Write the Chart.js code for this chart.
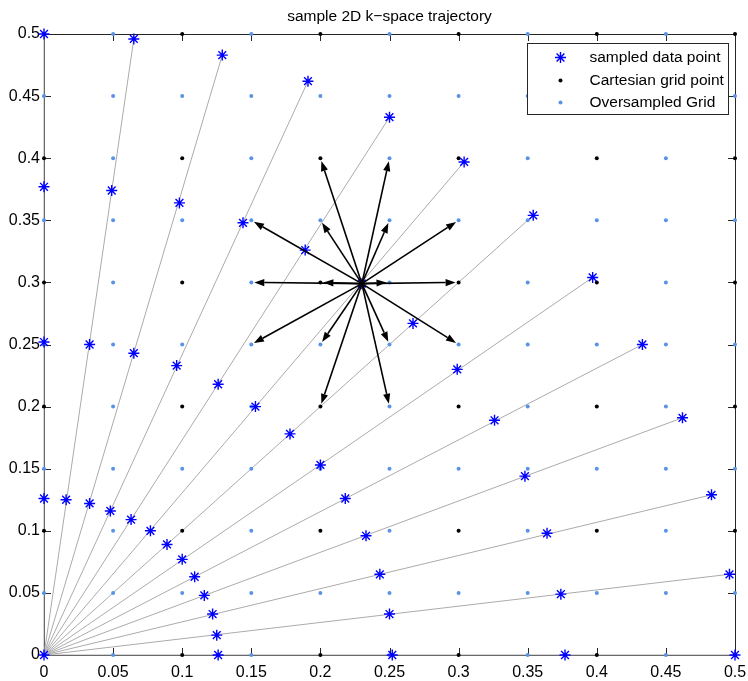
<!DOCTYPE html>
<html>
<head>
<meta charset="UTF-8">
<title>sample 2D k-space trajectory</title>
<script src="https://cdn.jsdelivr.net/npm/chart.js@4"></script>
<style>
  html, body { margin: 0; padding: 0; background: #fff; }
  #wrap { width: 748px; height: 681px; }
</style>
</head>
<body>
<div id="wrap"><canvas id="kspace" width="748" height="681"></canvas></div>
<script>
// axis ticks (same on x and y)
const tickValues = [0, 0.05, 0.1, 0.15, 0.2, 0.25, 0.3, 0.35, 0.4, 0.45, 0.5];
const tickLabels = ['0', '0.05', '0.1', '0.15', '0.2', '0.25', '0.3', '0.35', '0.4', '0.45', '0.5'];

// grid positions along each axis
const cartesianAxis = [0, 0.1, 0.2, 0.3, 0.4, 0.5];
const oversampledAxis = [0, 0.05, 0.1, 0.15, 0.2, 0.25, 0.3, 0.35, 0.4, 0.45, 0.5];

// sampled data points (origin, then 4 rings, 13 spokes each)
const sampledX = [0,
  0.126, 0.125, 0.122, 0.116, 0.109, 0.100, 0.089, 0.077, 0.063, 0.048, 0.033, 0.016, 0,
  0.252, 0.250, 0.243, 0.233, 0.218, 0.200, 0.178, 0.153, 0.126, 0.096, 0.065, 0.033, 0,
  0.377, 0.374, 0.364, 0.348, 0.326, 0.299, 0.267, 0.230, 0.189, 0.144, 0.098, 0.049, 0,
  0.500, 0.496, 0.483, 0.462, 0.433, 0.397, 0.354, 0.304, 0.250, 0.191, 0.129, 0.065, 0];
const sampledY = [0,
  0, 0.016, 0.033, 0.048, 0.063, 0.077, 0.089, 0.100, 0.109, 0.116, 0.122, 0.125, 0.126,
  0, 0.033, 0.065, 0.096, 0.126, 0.153, 0.178, 0.200, 0.218, 0.233, 0.243, 0.250, 0.252,
  0, 0.049, 0.098, 0.144, 0.189, 0.230, 0.267, 0.299, 0.326, 0.348, 0.364, 0.374, 0.377,
  0, 0.065, 0.129, 0.191, 0.250, 0.304, 0.354, 0.397, 0.433, 0.462, 0.483, 0.496, 0.500];

// trajectory spokes: from origin to these end points
const spokeEndX = [0.500, 0.496, 0.483, 0.462, 0.433, 0.397, 0.354, 0.304, 0.250, 0.191, 0.129, 0.065, 0];
const spokeEndY = [0, 0.065, 0.129, 0.191, 0.250, 0.304, 0.354, 0.397, 0.433, 0.462, 0.483, 0.496, 0.500];

// gridding arrows from one sample to its neighbouring grid points
const arrowFromX = 0.230;
const arrowFromY = 0.299;
const arrowToX = [0.2, 0.25, 0.15, 0.2, 0.25, 0.3, 0.15, 0.2, 0.25, 0.3, 0.15, 0.2, 0.25, 0.3, 0.2, 0.25];
const arrowToY = [0.4, 0.4, 0.35, 0.35, 0.35, 0.35, 0.3, 0.3, 0.3, 0.3, 0.25, 0.25, 0.25, 0.25, 0.2, 0.2];

const legendLabels = ['sampled data point', 'Cartesian grid point', 'Oversampled Grid'];

const STAR_BLUE = '#0000ff';
const GRID_BLUE = '#5a93e6';
const SPOKE_GRAY = '#ababab';
const AXIS = '#262626';

const sampled = sampledX.map((x, i) => ({ x: x, y: sampledY[i] }));
const cartesian = [];
cartesianAxis.forEach(gx => cartesianAxis.forEach(gy => cartesian.push({ x: gx, y: gy })));
const oversampled = [];
oversampledAxis.forEach(gx => oversampledAxis.forEach(gy => {
  if (!cartesianAxis.includes(gx) || !cartesianAxis.includes(gy)) oversampled.push({ x: gx, y: gy });
}));

const datasets = [
  { label: legendLabels[0], data: sampled, pointStyle: 'star', pointRadius: 5.5,
    borderColor: STAR_BLUE, backgroundColor: STAR_BLUE, borderWidth: 1.4, order: 0, clip: false },
  { label: legendLabels[1], data: cartesian, pointStyle: 'circle', pointRadius: 2,
    borderWidth: 0, backgroundColor: '#000', order: 1, clip: false },
  { label: legendLabels[2], data: oversampled, pointStyle: 'circle', pointRadius: 2,
    borderWidth: 0, backgroundColor: GRID_BLUE, order: 2, clip: false }
];
spokeEndX.forEach((ex, i) => {
  datasets.push({
    label: 'spoke', data: [{ x: 0, y: 0 }, { x: ex, y: spokeEndY[i] }],
    showLine: true, pointRadius: 0, borderColor: SPOKE_GRAY, borderWidth: 1, order: 3, clip: false
  });
});

function drawStar(ctx, x, y, r) {
  ctx.beginPath();
  for (let k = 0; k < 4; k++) {
    const a = k * Math.PI / 4;
    ctx.moveTo(x - r * Math.cos(a), y - r * Math.sin(a));
    ctx.lineTo(x + r * Math.cos(a), y + r * Math.sin(a));
  }
  ctx.stroke();
}

const framePlugin = {
  id: 'frame',
  beforeDatasetsDraw(chart) {
    const { ctx, chartArea: a, scales: { x, y } } = chart;
    ctx.save();
    ctx.strokeStyle = AXIS;
    ctx.lineWidth = 1;
    ctx.strokeRect(Math.round(a.left) + 0.5, Math.round(a.top) + 0.5,
      Math.round(a.right - a.left), Math.round(a.bottom - a.top));
    const tl = 7;
    ctx.beginPath();
    tickValues.forEach(v => {
      const px = Math.round(x.getPixelForValue(v)) + 0.5;
      ctx.moveTo(px, a.bottom); ctx.lineTo(px, a.bottom - tl);
      ctx.moveTo(px, a.top); ctx.lineTo(px, a.top + tl);
      const py = Math.round(y.getPixelForValue(v)) + 0.5;
      ctx.moveTo(a.left - 2, py); ctx.lineTo(a.left + tl, py);
      ctx.moveTo(a.right, py); ctx.lineTo(a.right - tl, py);
    });
    ctx.stroke();
    ctx.restore();
  },
  afterDatasetsDraw(chart) {
    const { ctx, scales: { x, y } } = chart;
    const cx = x.getPixelForValue(arrowFromX);
    const cy = y.getPixelForValue(arrowFromY);
    ctx.save();
    ctx.strokeStyle = '#000';
    ctx.fillStyle = '#000';
    ctx.lineWidth = 1.6;
    arrowToX.forEach((tx, i) => {
      const px = x.getPixelForValue(tx);
      const py = y.getPixelForValue(arrowToY[i]);
      const ang = Math.atan2(py - cy, px - cx);
      const len = Math.hypot(px - cx, py - cy) - 3;
      const tipX = cx + len * Math.cos(ang), tipY = cy + len * Math.sin(ang);
      const hl = 10, hw = 3.6;
      const bx = tipX - hl * Math.cos(ang), by = tipY - hl * Math.sin(ang);
      ctx.beginPath();
      ctx.moveTo(cx, cy);
      ctx.lineTo(bx, by);
      ctx.stroke();
      ctx.beginPath();
      ctx.moveTo(tipX, tipY);
      ctx.lineTo(bx + hw * Math.sin(ang), by - hw * Math.cos(ang));
      ctx.lineTo(bx - hw * Math.sin(ang), by + hw * Math.cos(ang));
      ctx.closePath();
      ctx.fill();
    });
    ctx.restore();
  },
  afterDraw(chart) {
    const { ctx, chartArea: a } = chart;
    const w = 201, h = 71;
    const left = Math.round(a.right) - 7 - w + 0.5;
    const top = Math.round(a.top) + 9 + 0.5;
    ctx.save();
    ctx.fillStyle = '#fff';
    ctx.fillRect(left, top, w, h);
    ctx.strokeStyle = AXIS;
    ctx.lineWidth = 1;
    ctx.strokeRect(left, top, w, h);
    ctx.font = '15.5px "Liberation Sans", Arial, sans-serif';
    ctx.textBaseline = 'middle';
    ctx.textAlign = 'left';
    const rows = [14, 37, 59];
    legendLabels.forEach((lbl, i) => {
      const ry = top + rows[i];
      const mx = left + 33;
      if (i === 0) {
        ctx.strokeStyle = STAR_BLUE;
        ctx.lineWidth = 1.4;
        drawStar(ctx, mx, ry, 5.5);
      } else {
        ctx.fillStyle = i === 1 ? '#000' : GRID_BLUE;
        ctx.beginPath();
        ctx.arc(mx, ry, 2, 0, Math.PI * 2);
        ctx.fill();
      }
      ctx.fillStyle = '#000';
      ctx.fillText(lbl, left + 62, ry);
    });
    ctx.restore();
  }
};

const axisCommon = {
  type: 'linear',
  min: 0,
  max: 0.5,
  grid: { display: false, drawTicks: false },
  border: { display: false },
  afterBuildTicks: s => { s.ticks = tickValues.map(v => ({ value: v })); }
};

new Chart(document.getElementById('kspace'), {
  type: 'scatter',
  data: { datasets: datasets },
  options: {
    responsive: false,
    animation: false,
    devicePixelRatio: 1,
    layout: { padding: { left: 0, right: 13, top: 0, bottom: 0 } },
    plugins: {
      legend: { display: false },
      tooltip: { enabled: false },
      title: {
        display: true,
        fullSize: false,
        text: 'sample 2D k\u2212space trajectory',
        color: '#000',
        font: { family: '"Liberation Sans", Arial, sans-serif', size: 15.5, weight: 'normal' },
        padding: { top: 7, bottom: 8.4 }
      }
    },
    scales: {
      x: Object.assign({}, axisCommon, {
        position: 'bottom',
        ticks: {
          autoSkip: false, maxRotation: 0, padding: 8, color: '#000',
          font: { family: '"Liberation Sans", Arial, sans-serif', size: 16 },
          callback: (v, i) => tickLabels[i]
        },
        afterFit: s => { s.height = 26; s.paddingLeft = 0; s.paddingRight = 0; }
      }),
      y: Object.assign({}, axisCommon, {
        position: 'left',
        ticks: {
          autoSkip: false, padding: 4, color: '#000',
          font: { family: '"Liberation Sans", Arial, sans-serif', size: 16 },
          callback: (v, i) => tickLabels[i]
        },
        afterFit: s => { s.width = 44; s.paddingTop = 0; s.paddingBottom = 0; }
      })
    }
  },
  plugins: [framePlugin]
});
</script>
</body>
</html>
